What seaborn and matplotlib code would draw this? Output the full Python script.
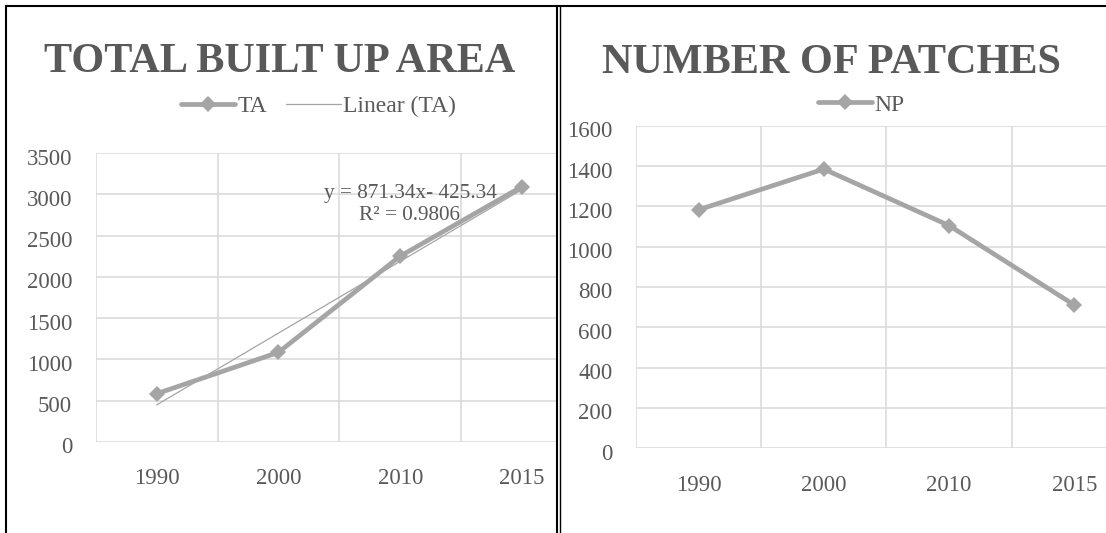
import numpy as np
import pandas as pd
import matplotlib
matplotlib.use("Agg")
import matplotlib.pyplot as plt
from matplotlib.lines import Line2D
from matplotlib.ticker import MultipleLocator, FixedLocator
from matplotlib.transforms import ScaledTranslation
import seaborn as sns

# ---- data -------------------------------------------------------------
years = ["1990", "2000", "2010", "2015"]
total_area = [582, 1084, 2252, 3096]          # TA
patches = [1183, 1385, 1105, 711]             # NP
trend_slope = 871.34                          # Linear (TA): y = a*x + b, x = 1..4
trend_intercept = -425.34
trend_r2 = 0.9806

# ---- style ------------------------------------------------------------
sns.set_theme(style="white")
plt.rcParams["font.family"] = ["Liberation Serif", "DejaVu Serif"]

W, H = 1106, 533
GREY = "#A5A5A5"
TEXT = "#595959"
GRID = "#D9D9D9"

fig = plt.figure(figsize=(W / 100, H / 100), dpi=100)
fig.patch.set_facecolor("white")


def px_axes(x0, x1, ytop, ybot):
    return fig.add_axes([x0 / W, (H - ybot) / H, (x1 - x0) / W, (ybot - ytop) / H])


def style_axes(ax, ymax, ystep, xmax):
    ax.set_xlim(-0.5, xmax)
    ax.set_ylim(0, ymax)
    ax.yaxis.set_major_locator(MultipleLocator(ystep))
    ax.set_xticks(range(len(years)))
    ax.set_xticklabels(years)
    ax.xaxis.set_minor_locator(FixedLocator([-0.5, 0.5, 1.5, 2.5, 3.5]))
    for s in ax.spines.values():
        s.set_visible(False)
    ax.grid(False)
    ax.yaxis.grid(True, which="major", color=GRID, linewidth=1.1)
    ax.xaxis.grid(True, which="minor", color=GRID, linewidth=1.1)
    ax.tick_params(axis="both", which="both", length=0, colors=TEXT, labelsize=16.5)
    ax.tick_params(axis="y", pad=17)
    ax.tick_params(axis="x", pad=19)
    ax.set_xlabel("")
    ax.set_ylabel("")
    ax.set_facecolor("white")
    # value labels sit slightly below their gridlines
    shift = ScaledTranslation(0, -3.5 / 100, fig.dpi_scale_trans)
    for lab in ax.get_yticklabels():
        lab.set_transform(lab.get_transform() + shift)


idx = np.arange(len(years))

# ---- left: total built-up area ----------------------------------------
ax1 = px_axes(95.7, 556, 153.3, 441.7)
left_xmax = (556 - 95.7) / 121.8 - 0.5
df_ta = pd.DataFrame({"pos": idx, "TA": total_area})
sns.lineplot(data=df_ta, x="pos", y="TA", ax=ax1, color=GREY, linewidth=3.4,
             marker="D", markersize=8.2, markeredgewidth=0, label="TA",
             legend=False, zorder=3)
trend = trend_slope * (idx + 1) + trend_intercept
sns.lineplot(x=idx, y=trend, ax=ax1, color=GREY, linewidth=0.9,
             label="Linear (TA)", legend=False, zorder=4)
style_axes(ax1, 3500, 500, left_xmax)
ax1.text(2.08, 2879,
         f"y = {trend_slope:.2f}x- {abs(trend_intercept):.2f}\nR² = {trend_r2:.4f}",
         ha="center", va="center", multialignment="center",
         fontsize=15.3, color=TEXT, linespacing=1.2, zorder=5)
h1, l1 = ax1.get_legend_handles_labels()
fig.legend(h1, l1, loc="center", bbox_to_anchor=(318.5 / W, (H - 106.7) / H),
           ncol=2, frameon=False, fontsize=17, labelcolor=TEXT,
           handlelength=2.3, handletextpad=0.1, columnspacing=0.8)
fig.text(279.5 / W, (H - 61.7) / H, "TOTAL BUILT UP AREA", ha="center", va="center",
         fontsize=30.4, fontweight="bold", color=TEXT)

# ---- right: number of patches -----------------------------------------
ax2 = px_axes(636, 1106, 125.7, 448.3)
right_xmax = (1106 - 636) / 125.2 - 0.5
df_np = pd.DataFrame({"pos": idx, "NP": patches})
sns.lineplot(data=df_np, x="pos", y="NP", ax=ax2, color=GREY, linewidth=3.4,
             marker="D", markersize=8.2, markeredgewidth=0, label="NP",
             legend=False, zorder=3)
style_axes(ax2, 1600, 200, right_xmax)
h2, l2 = ax2.get_legend_handles_labels()
fig.legend(h2, l2, loc="center", bbox_to_anchor=(861 / W, (H - 105) / H),
           ncol=1, frameon=False, fontsize=17, labelcolor=TEXT,
           handlelength=2.3, handletextpad=0.1)
fig.text(831 / W, (H - 63.3) / H, "NUMBER OF PATCHES", ha="center", va="center",
         fontsize=30.4, fontweight="bold", color=TEXT)

# ---- frame lines around the two charts ---------------------------------
def fig_line(x0, y0, x1, y1, lw):
    fig.add_artist(Line2D([x0 / W, x1 / W], [(H - y0) / H, (H - y1) / H],
                          transform=fig.transFigure, color="black",
                          linewidth=lw, solid_capstyle="butt", zorder=10))


fig_line(5, 6, W, 6, 1.5)
fig_line(6, 5, 6, H, 1.5)
fig_line(556.7, 5, 556.7, H, 1.5)
fig_line(560, 5, 560, H, 1.0)

fig.savefig("out.png", dpi=100, facecolor="white")
